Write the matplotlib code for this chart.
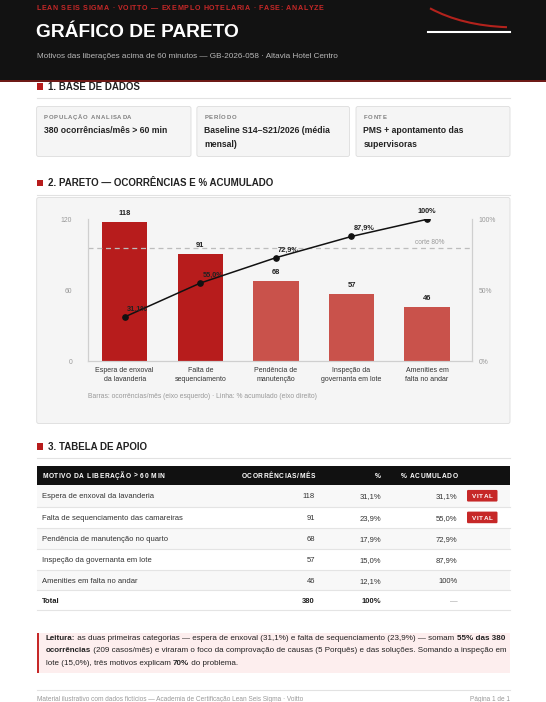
import matplotlib
matplotlib.use("Agg")
import matplotlib.pyplot as plt
from matplotlib.patches import Rectangle, FancyBboxPatch, PathPatch
from matplotlib.path import Path
from matplotlib.font_manager import FontProperties
import matplotlib.transforms as mtransforms

FAM = ["Liberation Sans", "DejaVu Sans"]
plt.rcParams["font.family"] = FAM

# ---- data -------------------------------------------------------------
categories = ["Espera de enxoval\nda lavanderia", "Falta de\nsequenciamento",
              "Pendência de\nmanutenção", "Inspeção da\ngovernanta em lote",
              "Amenities em\nfalta no andar"]
table_labels = ["Espera de enxoval da lavanderia",
                "Falta de sequenciamento das camareiras",
                "Pendência de manutenção no quarto",
                "Inspeção da governanta em lote",
                "Amenities em falta no andar"]
occurrences = [118, 91, 68, 57, 46]
share_pct = [31.1, 23.9, 17.9, 15.0, 12.1]
cumulative_pct = [31.1, 55.0, 72.9, 87.9, 100.0]
vital = [True, True, False, False, False]
left_ticks = [0, 60, 120]
right_ticks = [0, 50, 100]
cutoff_pct = 80
total_occ = 380

RED = "#c62828"
DARK = "#222222"
GRAY = "#999999"

W, H = 546, 702
fig = plt.figure(figsize=(W / 100, H / 100), dpi=100)
bg = fig.add_axes([0, 0, 1, 1])
bg.set_xlim(0, W)
bg.set_ylim(H, 0)
bg.axis("off")
renderer = fig.canvas.get_renderer()


def fmt_pct(v):
    if v == 100:
        return "100%"
    return f"{v:.1f}%".replace(".", ",")


def text_w(s, size, weight):
    fp = FontProperties(family=FAM, size=size, weight=weight)
    return renderer.get_text_width_height_descent(s, fp, ismath=False)[0]


def adv(s, size, weight="normal"):
    return text_w(s + "|", size, weight) - text_w("|", size, weight)


def txt(x, y, s, size, weight="normal", color=DARK, ha="left"):
    # y is the visual middle of the line, in pixels from the top
    bg.text(x, y + 0.35 * size / 0.72, s, fontsize=size, fontweight=weight,
            color=color, ha=ha, va="baseline")


def spaced(x, y, s, size, color, width, ha="left", weight="bold"):
    advs = [adv(c, size, weight) for c in s]
    gap = (width - sum(advs)) / max(len(s) - 1, 1)
    total = sum(advs) + gap * (len(s) - 1)
    if ha == "right":
        x -= total
    elif ha == "center":
        x -= total / 2
    for c, a in zip(s, advs):
        if c != " ":
            txt(x, y, c, size, weight, color)
        x += a + gap


def rich(x, y, parts, size, color=DARK):
    for s, bold in parts:
        w = "bold" if bold else "normal"
        txt(x, y, s, size, w, color)
        x += adv(s, size, w)


def card(x0, y0, x1, y1, fc="#f5f5f5"):
    bg.add_patch(FancyBboxPatch((x0, y0), x1 - x0, y1 - y0,
                                boxstyle="round,pad=0,rounding_size=2",
                                fc=fc, ec="#dddddd", lw=0.6))


def section(y, title, line_y):
    bg.add_patch(Rectangle((36.6, y - 3.4), 6, 6.8, color="#b71c1c", lw=0))
    txt(48.5, y, title, 7.0, "bold", DARK)
    bg.plot([36.6, 510], [line_y, line_y], color="#e2e2e2", lw=0.8)


# ---- header -----------------------------------------------------------
bg.add_patch(Rectangle((0, 0), W, 80, color="#121212", lw=0))
bg.add_patch(Rectangle((0, 80), W, 1.6, color="#6e1a17", lw=0))
spaced(36.6, 7.8, "LEAN SEIS SIGMA · VOITTO — EXEMPLO HOTELARIA · FASE: ANALYZE",
       5.1, RED, 287)
txt(36.2, 30.3, "GRÁFICO DE PARETO", 13.8, "bold", "white")
txt(36.6, 55.3, "Motivos das liberações acima de 60 minutos — GB-2026-058 · "
    "Altavia Hotel Centro", 5.9, color="#b8b8b8")
curve = Path([(430, 8.3), (462, 25.5), (507, 27.2)],
             [Path.MOVETO, Path.CURVE3, Path.CURVE3])
bg.add_patch(PathPatch(curve, fc="none", ec="#b3221c", lw=1.5))
bg.plot([427.7, 510], [32, 32], color="white", lw=1.5)

# ---- 1. base de dados -------------------------------------------------
section(86.5, "1. BASE DE DADOS", 98.3)
cards = [(36.6, 191.0, "POPULAÇÃO ANALISADA", 87.8, ["380 ocorrências/mês > 60 min"]),
         (196.9, 349.5, "PERÍODO", 31.7, ["Baseline S14–S21/2026 (média", "mensal)"]),
         (356.0, 510.0, "FONTE", 23.3, ["PMS + apontamento das", "supervisoras"])]
for x0, x1, label, lw_, lines in cards:
    card(x0, 106.5, x1, 156.5)
    spaced(x0 + 7.3, 116.8, label, 4.3, "#808080", lw_)
    for k, line in enumerate(lines):
        txt(x0 + 7.3, 130 + 14 * k, line, 6.2, "bold", DARK)

# ---- 2. pareto --------------------------------------------------------
section(183, "2. PARETO — OCORRÊNCIAS E % ACUMULADO", 194.5)
card(36.7, 197.5, 510, 423.5)

ax_l, ax_r, ax_t, ax_b = 87.7, 471.7, 219.3, 361.0
ax = fig.add_axes([ax_l / W, 1 - ax_b / H, (ax_r - ax_l) / W, (ax_b - ax_t) / H])
ax.patch.set_alpha(0)
xs = list(range(len(categories)))
bar_colors = ["#b71c1c" if v else "#c9524b" for v in vital]
ax.bar(xs, occurrences, width=0.6, color=bar_colors, zorder=2)
for i, v in enumerate(occurrences):
    ax.annotate(str(v), (i, v), xytext=(0, 5.8), textcoords="offset points",
                ha="center", va="center", fontsize=5.4, fontweight="bold",
                color=DARK)
ax.set_xlim(-0.489, 4.59)
ax.set_ylim(0, 120)
ax.set_yticks(left_ticks)
ax.set_xticks(xs)
ax.set_xticklabels(categories, fontsize=5.0, color="#333333", linespacing=1.3)
ax.tick_params(axis="x", length=0, pad=4.5)
ax.tick_params(axis="y", length=0, pad=11.3, labelsize=4.9, labelcolor=GRAY)

ax2 = ax.twinx()
ax2.set_ylim(0, 100)
ax2.set_yticks(right_ticks)
ax2.set_yticklabels([f"{t}%" for t in right_ticks])
ax2.tick_params(axis="y", length=0, pad=5, labelsize=4.9, labelcolor=GRAY)
ax2.axhline(cutoff_pct, color="#bdbdbd", lw=0.9, ls=(0, (4, 3)), zorder=1)
trans = mtransforms.blended_transform_factory(ax2.transAxes, ax2.transData)
ax2.annotate(f"corte {cutoff_pct}%", (0.93, cutoff_pct), xycoords=trans,
             xytext=(0, 3.6), textcoords="offset points", ha="right",
             va="center", fontsize=4.7, color=GRAY)
ax2.plot(xs, cumulative_pct, color="#111111", lw=1.1, marker="o", ms=3.8,
         zorder=3)
for i, c in enumerate(cumulative_pct):
    last = i == len(cumulative_pct) - 1
    ax2.annotate(fmt_pct(c), (i, c), xytext=(0 if last else 1.6, 5.6),
                 textcoords="offset points", ha="center" if last else "left",
                 va="center", fontsize=5.3, fontweight="bold", color=DARK)
for a in (ax, ax2):
    a.spines["top"].set_visible(False)
    for side in ("left", "right", "bottom"):
        a.spines[side].set_color("#cfcfcf")
        a.spines[side].set_linewidth(0.8)

txt(88, 396, "Barras: ocorrências/mês (eixo esquerdo) · Linha: % acumulado "
    "(eixo direito)", 4.9, color=GRAY)

# ---- 3. tabela --------------------------------------------------------
section(446.6, "3. TABELA DE APOIO", 458.3)
tx0, tx1 = 36.7, 510
col_occ, col_pct, col_cum = 315, 381, 457.5
bg.add_patch(Rectangle((tx0, 466), tx1 - tx0, 18.5, color="#111111", lw=0))
spaced(42.3, 475.2, "MOTIVO DA LIBERAÇÃO > 60 MIN", 4.8, "white", 122)
spaced(col_occ, 475.2, "OCORRÊNCIAS/MÊS", 4.8, "white", 73.6, ha="right")
txt(col_pct, 475.2, "%", 4.8, "bold", "white", ha="right")
spaced(col_cum, 475.2, "% ACUMULADO", 4.8, "white", 56.7, ha="right")

bounds = [484.5, 507, 527.8, 549, 569.8, 590.2, 610]
for r in range(len(bounds) - 1):
    y0, y1 = bounds[r], bounds[r + 1]
    if r % 2 == 0 and r < len(table_labels):
        bg.add_patch(Rectangle((tx0, y0), tx1 - tx0, y1 - y0, color="#f8f8f8", lw=0))
    bg.plot([tx0, tx1], [y1, y1], color="#e4e4e4", lw=0.8)

for r, label in enumerate(table_labels):
    yc = (bounds[r] + bounds[r + 1]) / 2
    txt(42.3, yc, label, 5.5, color="#333333")
    txt(col_occ, yc, str(occurrences[r]), 5.5, color="#333333", ha="right")
    txt(col_pct, yc, fmt_pct(share_pct[r]), 5.5, color="#333333", ha="right")
    txt(col_cum, yc, fmt_pct(cumulative_pct[r]), 5.5, color="#333333", ha="right")
    if vital[r]:
        bg.add_patch(FancyBboxPatch((467, yc - 5.8), 30.5, 11.6,
                                    boxstyle="round,pad=0,rounding_size=1.2",
                                    fc=RED, ec="none"))
        spaced(482.2, yc, "VITAL", 4.6, "white", 20.5, ha="center")

yc = (bounds[-2] + bounds[-1]) / 2
txt(42.3, yc, "Total", 5.5, "bold", DARK)
txt(col_occ, yc, str(total_occ), 5.5, "bold", DARK, ha="right")
txt(col_pct, yc, "100%", 5.5, "bold", DARK, ha="right")
txt(col_cum, yc, "—", 5.5, color=GRAY, ha="right")

# ---- leitura ----------------------------------------------------------
bg.add_patch(Rectangle((tx0, 633), tx1 - tx0, 40.3, color="#fdeeee", lw=0))
bg.add_patch(Rectangle((tx0, 633), 2.2, 40.3, color=RED, lw=0))
fs = 5.8
rich(46, 637, [("Leitura:", True),
               (" as duas primeiras categorias — espera de enxoval (31,1%) e falta "
                "de sequenciamento (23,9%) — somam ", False),
               ("55% das 380", True)], fs)
rich(46, 649.5, [("ocorrências", True),
                 (" (209 casos/mês) e viraram o foco da comprovação de causas "
                  "(5 Porquês) e das soluções. Somando a inspeção em", False)], fs)
rich(46, 662, [("lote (15,0%), três motivos explicam ", False), ("70%", True),
               (" do problema.", False)], fs)

# ---- footer -----------------------------------------------------------
bg.plot([tx0, tx1], [690, 690], color="#e2e2e2", lw=0.8)
txt(tx0, 699, "Material ilustrativo com dados fictícios — Academia de "
    "Certificação Lean Seis Sigma · Voitto", 4.7, color=GRAY)
txt(tx1, 699, "Página 1 de 1", 4.7, color=GRAY, ha="right")

fig.savefig("out.png", dpi=100)
plt.close(fig)
